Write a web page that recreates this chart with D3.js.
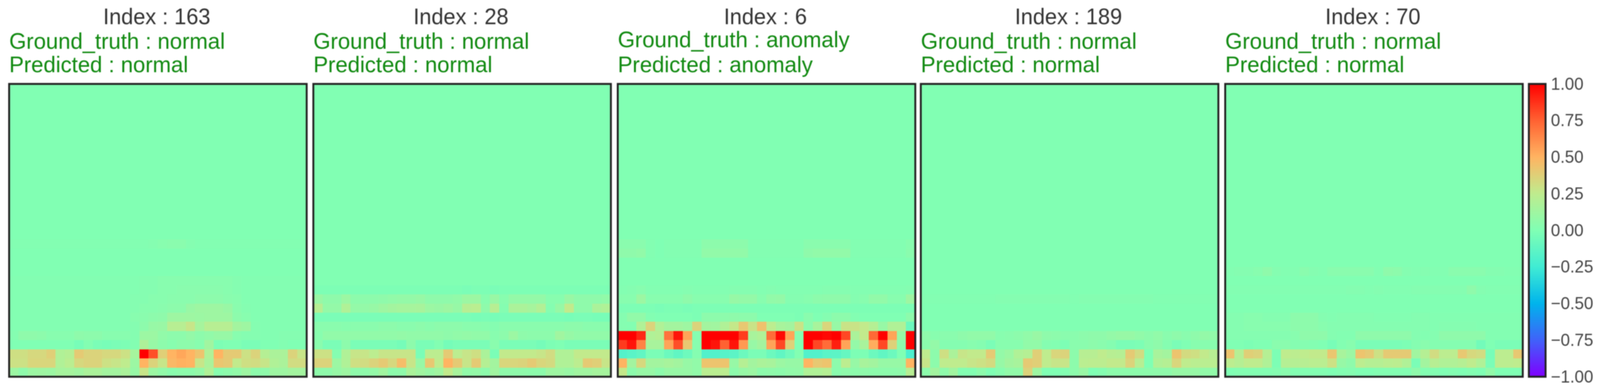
<!DOCTYPE html>
<html>
<head>
<meta charset="utf-8">
<title>Anomaly heatmaps</title>
<script src="https://cdn.jsdelivr.net/npm/d3@7"></script>
<style>
  html, body { margin: 0; background: #fff; overflow: hidden; }
  svg { display: block; width: 100vw; height: 100vh; font-family: "Liberation Sans", sans-serif; filter: blur(1.3px); }
</style>
</head>
<body>
<svg id="chart" viewBox="0 0 4205 999" preserveAspectRatio="none"></svg>
<script>
// titles of the five panels
const indices = [163, 28, 6, 189, 70];
const truths = ["normal", "normal", "anomaly", "normal", "normal"];
const preds = ["normal", "normal", "anomaly", "normal", "normal"];

// colorbar
const barTicks = [1, 0.75, 0.5, 0.25, 0, -0.25, -0.5, -0.75, -1];
// matplotlib rainbow, nine stops from -1 to 1
const rainbow = ["#7f00ff", "#4062fa", "#00b4ec", "#40ecd4", "#80ffb4", "#bfec8e", "#ffb462", "#ff6232", "#ff0000"];

// value of the flat green area, rows not listed below stay at this
const background = 0.005;

// rows of each heatmap that differ from the background: [row, 32 values]
const rows163 = [
  [17, [.01,.01,.01,.01,.01,.01,.01,.01,.01,.01,.01,.01,.01,.01,.01,.02,.03,.04,.04,.02,.01,.01,.01,.01,.01,.01,.01,.01,.01,.01,.01,.01]],
  [21, [.01,.01,.01,.01,.01,.01,.01,.01,.01,.01,.01,.01,.01,.01,.02,.02,.03,.03,.03,.03,.03,.03,.03,.03,.02,.01,.01,.01,.01,.01,.01,.01]],
  [22, [.01,.01,.01,.01,.01,.01,.01,.01,.01,.01,.01,.01,.01,.01,.02,.02,.03,.03,.04,.04,.04,.04,.04,.03,.02,.01,.01,.01,.01,.01,.01,.01]],
  [23, [.01,.01,.01,.01,.01,.01,.01,.01,.01,.01,.01,.01,.01,.02,.02,.03,.03,.04,.04,.04,.05,.05,.05,.04,.03,.01,.01,.01,.01,.01,.01,.01]],
  [24, [.01,.01,.01,.01,.01,.01,.01,.01,.01,.01,.01,.01,.01,.02,.03,.03,.04,.05,.05,.10,.12,.12,.12,.10,.04,.02,.01,.01,.01,.01,.01,.01]],
  [25, [.01,.01,.01,.01,.01,.01,.01,.01,.01,.01,.01,.01,.01,.03,.04,.05,.06,.12,.12,.12,.11,.12,.12,.12,.05,.03,.01,.01,.01,.01,.01,.01]],
  [26, [.01,.01,.01,.01,.01,.01,.01,.01,.01,.01,.01,.01,.01,.02,.05,.09,.10,.22,.22,.28,.15,.22,.22,.22,.14,.12,.02,.01,.01,.01,.01,.01]],
  [27, [.02,.06,.06,.05,.03,.03,.03,.06,.05,.05,.03,.03,.03,.02,.11,.11,.07,.05,.05,.08,.05,.07,.09,.09,.03,.02,.02,.01,.01,.02,.02,.02]],
  [28, [.00,.00,.00,.00,.00,.00,.00,-.03,.01,-.02,-.03,-.02,-.01,.01,.18,.09,.05,.03,.05,.05,.03,.13,-.01,.00,.00,-.02,-.02,.00,.00,.01,.00,.00]],
  [29, [.31,.31,.34,.34,.38,.19,.21,.40,.36,.36,.34,.34,.30,.15,1.0,.80,.38,.50,.54,.50,.43,.19,.50,.40,.40,.30,.36,.21,.17,.17,.36,.28]],
  [30, [.30,.30,.35,.35,.35,.19,.23,.34,.36,.36,.30,.28,.25,.11,.50,.36,.28,.48,.51,.50,.28,.17,.42,.40,.26,.31,.32,.28,.19,.17,.32,.32]],
  [31, [.11,.06,.11,.12,.11,.15,.15,.13,.17,.17,.14,.14,.17,.09,.28,.11,.07,.04,.05,.05,.08,.19,.03,.05,.07,.12,.05,.06,.12,.12,.14,.14]]
];
const rows28 = [
  [22, [-.01,-.01,-.01,-.01,-.01,-.01,-.01,-.01,-.01,-.01,-.01,-.01,-.01,-.01,-.01,-.01,-.02,-.01,-.01,-.02,-.01,-.01,-.01,-.01,-.01,-.01,-.01,-.01,-.01,-.01,-.01,-.01]],
  [23, [.10,.06,.06,.11,.05,.05,.05,.06,.07,.08,.08,.09,.06,.06,.06,.07,.11,.11,.03,.10,.03,.08,.08,.08,.08,.03,.03,.10,.06,.06,.06,.07]],
  [24, [.22,.08,.08,.19,.08,.08,.09,.12,.14,.15,.15,.16,.11,.10,.12,.09,.22,.23,.06,.22,.02,.17,.17,.15,.20,.02,.09,.26,.06,.06,.17,.19]],
  [25, [-.02,-.02,-.02,-.02,-.02,-.02,-.02,-.02,-.02,-.02,-.02,-.02,-.02,-.02,-.02,-.02,-.02,-.03,-.02,-.03,-.02,-.02,-.02,-.02,-.02,-.02,-.02,-.03,-.02,-.02,-.03,-.03]],
  [26, [.04,.04,.04,.03,.04,.04,.04,.05,.05,.04,.04,.05,.04,.05,.05,.05,.04,.04,.03,.02,.04,.04,.04,.04,.04,.04,.04,.05,.05,.04,.04,.04]],
  [27, [.03,.07,.07,.07,.07,.07,.07,.07,.07,.08,.07,.07,.07,.07,.06,.07,.08,.07,.07,.03,.05,.11,.06,.05,.05,.05,.13,.09,.07,.07,.07,.07]],
  [28, [.04,-.02,-.02,.05,-.02,-.02,-.02,-.02,-.02,-.04,.05,-.02,-.02,.01,-.04,-.02,-.02,-.02,-.02,.04,-.02,-.02,-.02,-.02,-.04,-.01,.00,-.02,-.02,-.02,-.02,-.02]],
  [29, [.30,.30,.02,.19,.28,.28,.24,.28,.28,.28,.28,-.02,.24,.24,.40,.24,.28,.31,.17,-.02,.26,.26,.26,.26,.28,.32,.19,.19,.26,.26,.26,.26]],
  [30, [.36,.36,.11,.19,.31,.32,.36,.40,.34,.46,.28,.09,.41,.25,.50,.40,.28,.40,.21,.14,.35,.35,.36,.40,.35,.33,.19,.19,.24,.40,.38,.28]],
  [31, [.06,.06,.09,.12,.06,.06,.08,.13,.05,.06,.17,.13,.10,.13,.26,.16,.07,.08,.05,.13,.06,.06,.06,.05,.05,.12,.12,.10,.13,.13,.15,.15]]
];
const rows6 = [
  [17, [.04,.04,.04,.01,.00,.01,.01,.01,.01,.05,.05,.05,.05,.05,.01,.01,.01,.01,.01,.01,.04,.04,.04,.04,.04,.01,.01,.01,.01,.01,.01,.03]],
  [18, [.06,.06,.07,.01,.00,.01,.01,.01,.01,.07,.07,.07,.07,.07,.01,.01,.01,.01,.01,.01,.06,.07,.07,.07,.07,.01,.01,.01,.01,.01,.01,.04]],
  [22, [.01,.02,.03,.01,.01,.01,.01,.02,.01,.01,.01,.01,.02,.02,.02,.01,.02,.01,.01,.01,.01,.01,.02,.02,.02,.01,.01,.01,.01,.01,.01,.02]],
  [23, [.03,.03,.11,.03,.03,.03,.03,.06,.03,.03,.03,.03,.09,.08,.08,.03,.07,.08,.02,.02,.03,.05,.06,.06,.06,.02,.03,.07,.07,.03,.03,.12]],
  [24, [-.01,-.01,-.01,-.01,-.02,-.01,-.01,-.02,-.01,-.01,-.01,-.01,-.01,-.01,-.01,-.01,-.01,-.01,-.01,-.01,-.01,-.01,-.01,-.01,-.01,-.01,-.01,-.01,-.01,-.01,-.01,-.01]],
  [25, [.02,.07,.07,.01,.00,.00,.00,.00,-.01,.05,.05,.05,.06,.05,.05,.00,.00,.00,.00,-.01,.04,.00,.02,.05,.05,.01,.00,.00,.00,.00,.00,.05]],
  [26, [.02,.01,.19,.36,.19,.14,.14,.12,.36,.14,.13,.19,.27,.41,.29,.44,.24,.16,.14,.29,.05,.16,.35,.09,.29,.29,.26,.21,.09,.19,.19,-.08]],
  [27, [1.0,1.0,.90,.19,.21,.70,.95,.55,.02,1.0,1.0,1.0,1.0,.85,.16,.19,.72,.98,.55,.02,1.0,1.0,.98,1.0,.82,.17,.26,.73,1.0,.55,.09,1.0]],
  [28, [.85,.95,.65,.16,.16,.55,.80,.41,.03,1.0,.95,.75,.95,.58,.09,.14,.55,.82,.37,.00,1.0,.82,.72,.92,.55,.08,.16,.52,.82,.37,.05,1.0]],
  [29, [-.17,-.15,-.12,-.02,-.02,-.08,-.12,-.07,.02,-.18,-.18,-.16,-.14,-.08,-.02,-.02,-.08,-.12,-.06,.01,-.18,-.18,-.15,-.14,-.10,-.01,-.01,-.08,-.12,-.08,.00,-.20]],
  [30, [.50,.14,.34,.14,.14,.16,.14,.09,.07,.43,.43,.43,.09,.21,.14,.17,.16,.11,.09,.09,.50,.41,.43,.05,.24,.09,.16,.14,.09,.09,.09,.50]],
  [31, [.27,.05,.09,.09,.05,.09,.09,.09,.07,.23,.23,.24,.05,.09,.11,.05,.06,.05,.07,.08,.19,.19,.21,.04,.06,.05,.06,.05,.05,.05,.06,.22]]
];
const rows189 = [
  [23, [.01,.01,.01,.01,.01,.01,.01,.01,.02,.02,.02,.02,.02,.02,.02,.02,.01,.02,.02,.02,.02,.02,.02,.02,.02,.01,.01,.01,.01,.01,.01,.01]],
  [27, [.06,.03,.04,.04,.06,.07,.07,.07,.03,.04,.05,.07,.10,.06,.05,.04,.04,.05,.06,.06,.08,.09,.09,.07,.05,.07,.04,.06,.04,.06,.08,.07]],
  [28, [.04,.08,.02,.02,.02,.03,.02,-.02,.03,.03,.03,.07,.07,.02,.01,-.01,.04,.04,.05,.04,.02,-.02,-.02,-.01,.04,.06,.02,-.02,.00,.03,.03,.03]],
  [29, [.25,.05,.31,.17,.28,.26,.26,.40,.08,.11,.19,.21,.38,.25,.35,.36,.05,.22,.22,.25,.22,.21,.40,.32,.00,.16,.14,.43,.33,.31,.26,.22]],
  [30, [.28,.05,.25,.25,.25,.28,.30,.33,.09,.14,.16,.40,.38,.25,.28,.28,.05,.23,.24,.24,.26,.26,.36,.22,.00,.19,.21,.35,.25,.23,.23,.23]],
  [31, [.05,.14,.06,.13,.01,.01,.05,.00,.03,.07,.07,.36,.12,.00,.00,.01,.05,.10,.00,.02,.05,.05,.05,.05,.05,.06,.06,.09,.09,.09,.07,.07]]
];
const rows70 = [
  [20, [.01,.02,.02,.03,.06,.02,.01,.01,.04,.02,.01,.04,.04,.04,.04,.04,.01,.06,.05,.02,.01,.02,.01,.01,.04,.04,.04,.04,.02,.02,.01,.01]],
  [22, [.01,.01,.01,.01,.01,.01,.01,.01,.01,.01,.01,.01,.01,.02,.02,.01,.02,.01,.01,.01,.02,.02,.02,.02,.02,.02,.06,.02,.01,.01,.01,.01]],
  [25, [.02,.02,.03,.03,.02,.02,.02,.05,.05,.05,.02,.01,.02,.02,.02,.02,.01,.01,.01,.01,.02,.02,.01,.01,.01,.01,.01,.01,.01,.01,.01,.01]],
  [26, [.02,.02,.03,.03,.03,.03,.03,.05,.05,.05,.03,.02,.02,.02,.02,.02,.02,.02,.02,.02,.02,.02,.01,.02,.02,.02,.02,.01,.01,.01,.01,.01]],
  [27, [.02,.02,.02,.02,.02,.02,.02,.03,.06,.06,.06,.02,.01,.01,.06,.06,.06,.06,.06,.06,.02,.01,.02,.06,.06,.06,.06,.06,.01,.01,.01,.01]],
  [28, [.00,.00,-.01,.00,.00,.04,.04,.02,.02,.01,.00,-.03,.01,.03,-.02,-.02,-.02,-.02,-.02,-.01,.02,.04,.02,.02,.02,.02,.02,-.05,.00,-.02,-.02,-.02]],
  [29, [.43,.21,.38,.36,.21,-.01,.25,.24,.25,.26,.26,.42,.16,.11,.43,.40,.30,.40,.40,.40,.13,.21,.32,.24,.24,.41,.34,.32,-.03,.24,.24,.41]],
  [30, [.24,.21,.25,.25,.19,-.01,.21,.21,.22,.23,.23,.30,.09,.06,.24,.21,.21,.23,.24,.19,-.02,.14,.22,.19,.19,.21,.25,.19,-.02,.24,.24,.25]],
  [31, [.00,.01,.01,.01,.01,.02,.04,.01,.01,.01,.01,.00,.01,.02,.00,.00,.01,.01,.01,.01,.06,.01,.01,.00,.01,.00,.01,.00,.07,.00,.00,.00]]
];
const panelRows = [rows163, rows28, rows6, rows189, rows70];

const nCells = 32;
const plotTop = 215;
const plotBottom = 965;
const panelWidth = 782;

const svg = d3.select("#chart");

const panelX = d3.scaleOrdinal()
  .domain(d3.range(indices.length))
  .range([24, 823.5, 1623.5, 2420, 3220]);
const colorScale = d3.scaleLinear()
  .domain(rainbow.map((c, i) => -1 + i * 0.25))
  .range(rainbow);

const cellX = d3.scaleBand().domain(d3.range(nCells)).range([0, panelWidth]);
const cellY = d3.scaleBand().domain(d3.range(nCells)).range([0, plotBottom - plotTop]);

const panels = svg.selectAll("g.panel")
  .data(indices)
  .enter()
  .append("g")
  .attr("class", "panel")
  .attr("transform", (d, i) => `translate(${panelX(i)},${plotTop})`);

panels.each(function (d, i) {
  const panel = d3.select(this);
  const lookup = new Map(panelRows[i]);
  const cells = [];
  for (const r of d3.range(nCells)) {
    const row = lookup.get(r);
    for (const c of d3.range(nCells)) {
      cells.push({ r, c, v: row ? row[c] : background });
    }
  }
  panel.selectAll("rect.cell")
    .data(cells)
    .enter()
    .append("rect")
    .attr("class", "cell")
    .attr("x", (e) => cellX(e.c))
    .attr("y", (e) => cellY(e.r))
    .attr("width", cellX.bandwidth() + 0.5)
    .attr("height", cellY.bandwidth() + 0.5)
    .attr("fill", (e) => colorScale(e.v))
    .attr("shape-rendering", "crispEdges");

  panel.append("rect")
    .attr("width", panelWidth)
    .attr("height", plotBottom - plotTop)
    .attr("fill", "none")
    .attr("stroke", "#222")
    .attr("stroke-width", 5);

  panel.append("text")
    .attr("x", panelWidth / 2 - 3)
    .attr("y", 62 - plotTop)
    .attr("text-anchor", "middle")
    .attr("font-size", 57)
    .attr("fill", "#333")
    .text(`Index : ${d}`);

  // the two line title sits a little higher when it has a descender
  panel.append("text")
    .attr("x", 0)
    .attr("y", (truths[i] === "anomaly" ? 121 : 125) - plotTop)
    .attr("font-size", 58)
    .attr("fill", "#118a11")
    .text(`Ground_truth : ${truths[i]}`);

  panel.append("text")
    .attr("x", 0)
    .attr("y", 185 - plotTop)
    .attr("font-size", 58)
    .attr("fill", "#118a11")
    .text(`Predicted : ${preds[i]}`);
});

// colorbar
const barX = 4018;
const barWidth = 44;
const barY = d3.scaleLinear().domain([1, -1]).range([plotTop, plotBottom]);

const gradient = svg.append("defs")
  .append("linearGradient")
  .attr("id", "rainbow")
  .attr("x1", 0).attr("x2", 0).attr("y1", 1).attr("y2", 0);
gradient.selectAll("stop")
  .data(rainbow)
  .enter()
  .append("stop")
  .attr("offset", (d, i) => i / (rainbow.length - 1))
  .attr("stop-color", (d) => d);

svg.append("rect")
  .attr("x", barX)
  .attr("y", plotTop)
  .attr("width", barWidth)
  .attr("height", plotBottom - plotTop)
  .attr("fill", "url(#rainbow)")
  .attr("stroke", "#222")
  .attr("stroke-width", 5);

const barAxis = svg.append("g")
  .attr("transform", `translate(${barX + barWidth},0)`)
  .call(
    d3.axisRight(barY)
      .tickValues(barTicks)
      .tickSize(0)
      .tickPadding(14)
      .tickFormat(d3.format(".2f"))
  );
barAxis.select(".domain").remove();
barAxis.selectAll("text")
  .attr("font-family", "Liberation Sans")
  .attr("font-size", 44)
  .attr("fill", "#444");
</script>
</body>
</html>
